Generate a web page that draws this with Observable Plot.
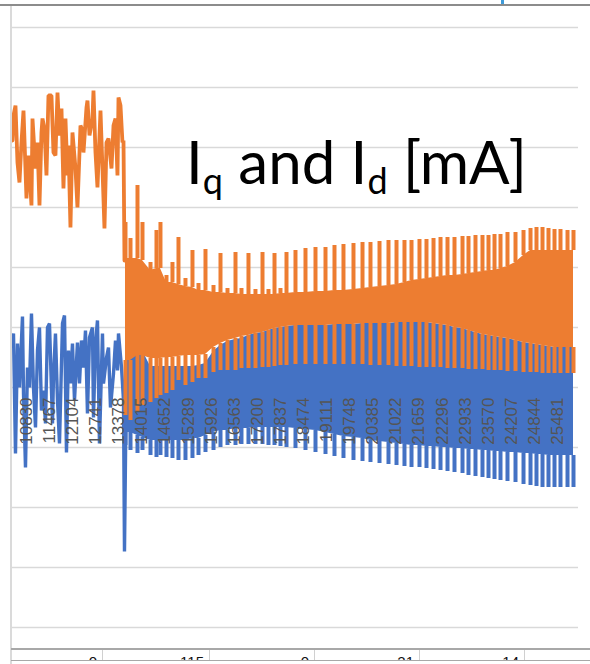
<!DOCTYPE html>
<html><head><meta charset="utf-8">
<script src="https://cdn.jsdelivr.net/npm/d3@7"></script>
<script src="https://cdn.jsdelivr.net/npm/@observablehq/plot@0.6"></script>
<style>
html,body{margin:0;padding:0;background:#fff;}
#wrap{position:relative;width:590px;height:664px;overflow:hidden;}
#chart svg{position:absolute;left:0;top:0;}
.title{position:absolute;left:186px;top:131px;font-family:Lato,"Open Sans",sans-serif;font-size:60px;line-height:60px;color:#000;white-space:nowrap;}
.title sub{font-size:0.6em;position:relative;top:0.28em;vertical-align:baseline;line-height:0;}
.topline{position:absolute;left:0;top:4px;width:590px;height:2px;background:#8c8c8c;}
.leftline{position:absolute;left:10px;top:6px;width:2px;height:658px;background:#dadada;}
.mark{position:absolute;left:501px;top:0;width:3px;height:4px;background:#3d9ad8;}
.hl{position:absolute;left:11px;width:579px;height:2px;background:#a8a8a8;}
.cells{position:absolute;left:11px;top:650px;width:579px;height:10px;overflow:hidden;}
.cell{position:absolute;top:0;height:10px;border-right:1px solid #d0d0d0;}
.cell span{position:absolute;right:5px;top:4px;font-family:"Liberation Sans",Arial,sans-serif;font-size:15px;line-height:15px;color:#111;}
</style></head>
<body>
<div id="wrap">
<div id="chart"></div>
<div class="topline"></div>
<div class="leftline"></div>
<div class="mark"></div>
<div class="hl" style="top:648px"></div>
<div class="cells" id="cells"></div>
<div class="hl" style="top:660px;height:1px"></div>
<div class="title">I<sub>q</sub> and I<sub>d</sub> [mA]</div>
</div>
<script>
// x tick labels (sample numbers)
const xTicks = [10830, 11467, 12104, 12741, 13378, 14015, 14652, 15289, 15926, 16563, 17200, 17837, 18474, 19111, 19748, 20385, 21022, 21659, 22296, 22933, 23570, 24207, 24844, 25481];
// horizontal gridlines (value units)
const yGrid = [-240, -180, -120, -60, 0, 60, 120, 180, 240, 300, 360];

// Iq (orange) before the drop: sample, value
const iqLeftSample = [10444,10472,10527,10582,10637,10692,10748,10830,10886,10968,10996,11079,11134,11189,11244,11272,11327,11382,11437,11520,11575,11630,11686,11741,11796,11851,11906,11962,11989,12044,12099,12182,12237,12320,12375,12403,12486,12513,12569,12651,12679,12734,12789,12872,12927,12982,13038,13093,13176,13231,13286,13341,13369,13424,13479,13507,13534];
const iqLeftValue  = [247,272,282,225,205,245,277,189,232,182,269,219,245,182,255,269,259,212,292,292,235,232,295,252,279,199,269,212,242,160,255,219,180,262,257,235,280,287,252,269,297,235,200,277,219,159,245,249,219,262,269,212,290,282,245,247,127];

// Id (blue) before the drop: sample, value
const idLeftSample = [10444,10472,10527,10582,10637,10720,10748,10803,10858,10913,10968,11023,11079,11134,11189,11244,11299,11355,11410,11465,11548,11575,11630,11686,11741,11824,11879,11934,11989,12044,12099,12155,12237,12293,12348,12403,12458,12513,12569,12651,12679,12734,12789,12844,12927,12955,13038,13093,13148,13231,13286,13341,13369,13452,13507,13534,13589];
const idLeftValue  = [47,54,-66,44,0,71,-6,-80,20,0,74,0,-40,37,60,-23,-3,-36,60,64,-36,10,54,-13,-56,64,72,-65,37,4,44,-13,45,4,47,20,57,-26,50,60,-30,44,67,-56,54,4,30,40,-20,14,47,17,54,20,-13,-164,20];

// After the drop: one entry per oscillation tooth
const toothSample = [13562,13700,13893,14031,14252,14417,14527,14693,14858,15024,15217,15410,15576,15769,15990,16183,16376,16597,16762,16955,17148,17342,17507,17673,17838,18004,18252,18528,18804,19080,19328,19576,19852,20101,20321,20570,20818,21039,21259,21453,21673,21866,22060,22253,22446,22639,22860,23025,23218,23411,23577,23743,23908,24101,24322,24543,24736,24901,25067,25232,25398,25563,25757,25922];
const iqPeak   = [165,149,202,165,125,157,165,112,125,150,109,137,104,138,102,134,99,135,99,134,98,135,98,134,99,135,137,139,140,140,142,143,144,145,145,146,147,147,147,147,148,148,149,150,150,150,151,151,152,152,152,153,153,155,155,157,159,160,160,159,158,158,157,157];
const iqUpper  = [129,129,129,127,117,119,119,105,105,103,101,100,97,97,95,95,94,94,93,93,93,93,93,93,94,94,95,95,96,96,97,97,98,99,100,101,102,103,105,107,108,109,110,111,112,112,113,114,115,116,117,117,119,121,125,132,137,137,137,137,137,137,137,137];
const iqLower  = [27,27,32,32,29,29,29,30,30,31,32,32,32,33,40,44,47,49,51,52,54,55,57,59,60,61,62,62,62,62,63,63,63,64,64,64,64,65,65,65,65,65,64,63,62,60,59,57,55,53,52,51,50,49,47,45,44,43,42,41,40,40,40,40];
const iqTrough = [-28,-33,-25,-18,-15,-11,-8,-6,-3,7,2,5,9,9,15,17,17,17,19,19,19,20,20,21,22,22,23,23,23,23,23,23,23,23,22,22,22,21,21,21,20,20,20,20,19,19,19,18,18,18,17,17,17,16,16,15,15,15,14,14,14,14,14,14];
const idUpper  = [42,42,42,37,21,21,21,21,21,21,21,21,22,24,36,42,46,48,49,52,54,55,57,59,60,61,62,62,62,62,63,63,63,64,64,64,64,65,65,65,65,65,64,63,62,60,59,57,55,53,52,51,50,49,47,45,44,43,42,41,40,40,40,40];
const idLower  = [-45,-45,-48,-50,-53,-53,-53,-53,-53,-53,-53,-51,-51,-48,-45,-43,-43,-41,-41,-41,-40,-40,-40,-40,-40,-40,-41,-42,-43,-45,-47,-49,-50,-51,-53,-54,-55,-56,-57,-58,-58,-59,-59,-60,-60,-61,-61,-62,-62,-63,-63,-64,-64,-65,-65,-66,-66,-67,-67,-68,-68,-68,-68,-68];
const idTrough = [-58,-63,-66,-63,-68,-70,-68,-70,-71,-73,-73,-71,-68,-65,-63,-60,-58,-58,-57,-57,-57,-57,-58,-58,-59,-60,-61,-63,-65,-67,-69,-71,-73,-74,-75,-76,-77,-78,-79,-80,-80,-81,-82,-83,-84,-85,-86,-88,-89,-90,-91,-92,-93,-94,-95,-97,-98,-99,-100,-100,-100,-100,-100,-100];

// worksheet cells below the chart
const cellValues = ["0", "115", "0", "21", "14"];
const cellRight = [91, 198, 303, 408, 513];

const BLUE = "#4472C4", ORANGE = "#ED7D31";

const iqLeft = iqLeftSample.map((s, i) => ({s, v: iqLeftValue[i]}));
const idLeft = idLeftSample.map((s, i) => ({s, v: idLeftValue[i]}));
const teeth = toothSample.map((s, i) => ({
  s, iqPeak: iqPeak[i], iqUpper: iqUpper[i], iqLower: iqLower[i], iqTrough: iqTrough[i],
  idUpper: idUpper[i], idLower: idLower[i], idTrough: idTrough[i]
}));

const chart = Plot.plot({
  width: 590, height: 664,
  marginLeft: 11, marginRight: 12, marginTop: 27, marginBottom: 37,
  x: {domain: [10417, 26060], axis: null},
  y: {domain: [-240, 360], axis: null},
  style: {background: "transparent", overflow: "visible"},
  marks: [
    Plot.ruleY(yGrid, {stroke: "#d9d9d9", strokeWidth: 1.6}),
    Plot.lineY(idLeft, {x: "s", y: "v", stroke: BLUE, strokeWidth: 3.4, strokeLinejoin: "miter"}),
    Plot.areaY(teeth, {x: "s", y1: "idLower", y2: "idUpper", fill: BLUE}),
    Plot.ruleX(teeth, {x: "s", y1: "idLower", y2: "idTrough", stroke: BLUE, strokeWidth: 4}),
    Plot.lineY(iqLeft, {x: "s", y: "v", stroke: ORANGE, strokeWidth: 3.8, strokeLinejoin: "miter"}),
    Plot.areaY(teeth, {x: "s", y1: "iqLower", y2: "iqUpper", fill: ORANGE}),
    Plot.ruleX(teeth, {x: "s", y1: "iqUpper", y2: "iqPeak", stroke: ORANGE, strokeWidth: 4}),
    Plot.ruleX(teeth, {x: "s", y1: "iqLower", y2: "iqTrough", stroke: ORANGE, strokeWidth: 4}),
    Plot.text(xTicks, {
      x: d => d, y: xTicks.map(() => 0), text: d => String(d),
      rotate: -90, textAnchor: "end", lineAnchor: "middle", dy: 10,
      fontSize: 17, fontFamily: "Liberation Sans, Arial, sans-serif",
      fill: "#555555"
    })
  ]
});
document.getElementById("chart").appendChild(chart);

const cells = document.getElementById("cells");
let prev = 0;
cellValues.forEach((t, i) => {
  const d = document.createElement("div");
  d.className = "cell";
  d.style.left = prev + "px";
  d.style.width = (cellRight[i] - prev) + "px";
  const sp = document.createElement("span");
  sp.textContent = t;
  d.appendChild(sp);
  cells.appendChild(d);
  prev = cellRight[i] + 1;
});
</script>
</body></html>
